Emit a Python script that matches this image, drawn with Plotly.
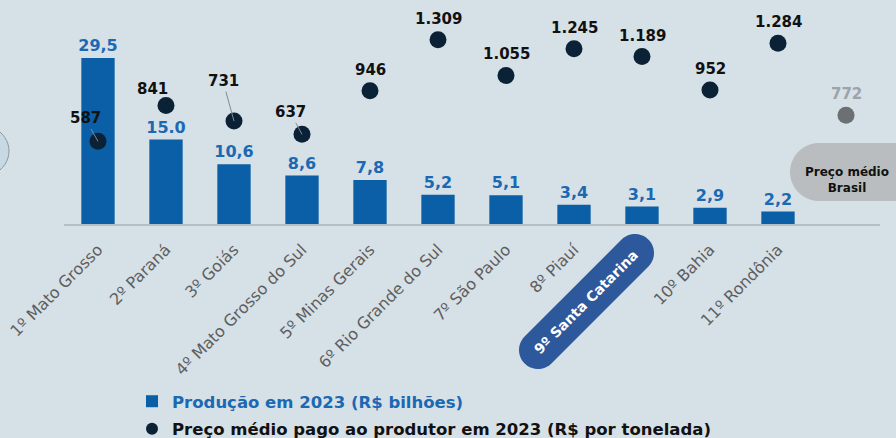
import numpy as np
import plotly.graph_objects as go

categories = ["1º Mato Grosso", "2º Paraná", "3º Goiás", "4º Mato Grosso do Sul",
              "5º Minas Gerais", "6º Rio Grande do Sul", "7º São Paulo", "8º Piauí",
              "9º Santa Catarina", "10º Bahia", "11º Rondônia", "Brasil"]
tick_text = ["1º Mato Grosso", "2º Paraná", "3º Goiás", "4º Mato Grosso do Sul",
             "5º Minas Gerais", "6º Rio Grande do Sul", "7º São Paulo", "8º Piauí",
             "", "10º Bahia", "11º Rondônia", ""]
production = [29.5, 15.0, 10.6, 8.6, 7.8, 5.2, 5.1, 3.4, 3.1, 2.9, 2.2, None]
production_labels = ["29,5", "15.0", "10,6", "8,6", "7,8", "5,2", "5,1", "3,4", "3,1", "2,9", "2,2", ""]
price = [587, 841, 731, 637, 946, 1309, 1055, 1245, 1189, 952, 1284, 772]
price_labels = ["587", "841", "731", "637", "946", "1.309", "1.055", "1.245", "1.189", "952", "1.284", "772"]

BG = "#D6E0E7"
BAR = "#0B5FA6"
BAR_TXT = "#1B69B3"
DOT = "#0B2236"
GREY_DOT = "#6C7073"

W_FIG, H_FIG = 896, 438
L, R, T, B = 64, 16, 0, 214
PW, PH = W_FIG - L - R, H_FIG - T - B


def pxx(x):
    return (x - L) / PW


def pxy(y):
    return (T + PH - y) / PH


def capsule(p1, p2, r, n=24):
    p1 = np.array(p1, float)
    p2 = np.array(p2, float)
    d = p2 - p1
    th = np.arctan2(d[1], d[0])
    pts = []
    for a in np.linspace(th - np.pi / 2, th + np.pi / 2, n):
        pts.append(p2 + r * np.array([np.cos(a), np.sin(a)]))
    for a in np.linspace(th + np.pi / 2, th + 3 * np.pi / 2, n):
        pts.append(p1 + r * np.array([np.cos(a), np.sin(a)]))
    s = "M " + " L ".join(f"{pxx(p[0]):.5f},{pxy(p[1]):.5f}" for p in pts) + " Z"
    return s


def ellipse(cx, cy, rx, ry, n=48):
    a = np.linspace(0, 2 * np.pi, n, endpoint=False)
    pts = [(cx + rx * np.cos(t), cy + ry * np.sin(t)) for t in a]
    return "M " + " L ".join(f"{pxx(x):.5f},{pxy(y):.5f}" for x, y in pts) + " Z"


dot_colors = [DOT] * 11 + [GREY_DOT]
lbl_colors = ["#111111"] * 11 + ["#9DA3A8"]

fig = go.Figure()
fig.add_trace(go.Bar(
    x=categories, y=production, name="<span style='color:#1B69B3'><b>Produção em 2023 (R$ bilhões)</b></span>",
    legendgroup="a",
    marker=dict(color=BAR, line=dict(width=0)), width=0.49,
    text=production_labels, textposition="outside", cliponaxis=False, constraintext="none",
    textfont=dict(family="DejaVu Sans", size=16, color=BAR_TXT, weight="bold"),
    hoverinfo="skip",
))
fig.add_trace(go.Scatter(
    x=categories, y=price, yaxis="y2", mode="markers", legendgroup="b",
    name="<b>Preço médio pago ao produtor em 2023 (R$ por tonelada)</b>",
    marker=dict(size=17, color=dot_colors), cliponaxis=False, hoverinfo="skip",
))

# price labels
leader = {0: (-13, -23), 2: (-11, -40), 3: (-12, -22)}
for i, (c, v, t) in enumerate(zip(categories, price, price_labels)):
    font = dict(family="DejaVu Sans", size=15, color=lbl_colors[i], weight="bold")
    if i in leader:
        ax, ay = leader[i]
        fig.add_annotation(x=c, y=v, yref="y2", text=t, showarrow=True, ax=ax, ay=ay,
                           arrowhead=0, arrowwidth=1, arrowcolor="#7F8A92", standoff=0,
                           font=font)
    elif i == 1:
        fig.add_annotation(x=c, y=v, yref="y2", text=t, showarrow=False,
                           xshift=-14, yshift=17, font=font)
    else:
        fig.add_annotation(x=c, y=v, yref="y2", text=t, showarrow=False,
                           yshift=21, font=font)

# partial map decoration at left edge
fig.add_shape(type="path", xref="paper", yref="paper", layer="below",
              path=ellipse(-22, 151, 31, 27),
              fillcolor="#C9D9E4", line=dict(width=1, color="#8E979E"))

# Santa Catarina pill
fig.add_shape(type="path", xref="paper", yref="paper", layer="above",
              path=capsule((538, 350), (635, 253), 19),
              fillcolor="#2D589C", line=dict(width=0))
fig.add_annotation(xref="paper", yref="paper", x=pxx(586), y=pxy(302),
                   xanchor="center", yanchor="middle",
                   text="<b>9º Santa Catarina</b>", showarrow=False, textangle=-45,
                   font=dict(family="DejaVu Sans", size=14, color="white"))

# Preço médio Brasil box
fig.add_shape(type="path", xref="paper", yref="paper", layer="above",
              path=capsule((819, 172), (940, 172), 29),
              fillcolor="#B9BDC0", line=dict(width=0))
fig.add_annotation(xref="paper", yref="paper", x=pxx(847), y=pxy(180),
                   xanchor="center", yanchor="middle",
                   text="<b>Preço médio<br>Brasil</b>", showarrow=False,
                   font=dict(family="DejaVu Sans", size=12, color="#111111"))

fig.update_layout(
    width=W_FIG, height=H_FIG,
    paper_bgcolor=BG, plot_bgcolor=BG,
    margin=dict(l=L, r=R, t=T, b=B, autoexpand=False),
    bargap=0.51,
    xaxis=dict(
        type="category", tickmode="array", tickvals=categories, ticktext=tick_text,
        tickangle=-45, tickfont=dict(family="DejaVu Sans", size=16, color="#5E5E5E"),
        ticklabelstandoff=8,
        showline=True, linecolor="#B6BEC4", linewidth=2, ticks="", showgrid=False,
        range=[-0.5, 11.5],
    ),
    yaxis=dict(range=[0, 39.8], visible=False, showgrid=False),
    yaxis2=dict(range=[0, 1591], overlaying="y", visible=False, showgrid=False),
    showlegend=True,
    legend=dict(x=pxx(132), y=pxy(384), xanchor="left", yanchor="top",
                bgcolor="rgba(0,0,0,0)", itemsizing="constant",
                font=dict(family="DejaVu Sans", size=16.5, color="#111111"),
                tracegroupgap=3),
)
fig.write_html("out.html", config={"displayModeBar": False},
               post_script="document.body.style.margin='0';document.body.style.background='#D6E0E7';")
